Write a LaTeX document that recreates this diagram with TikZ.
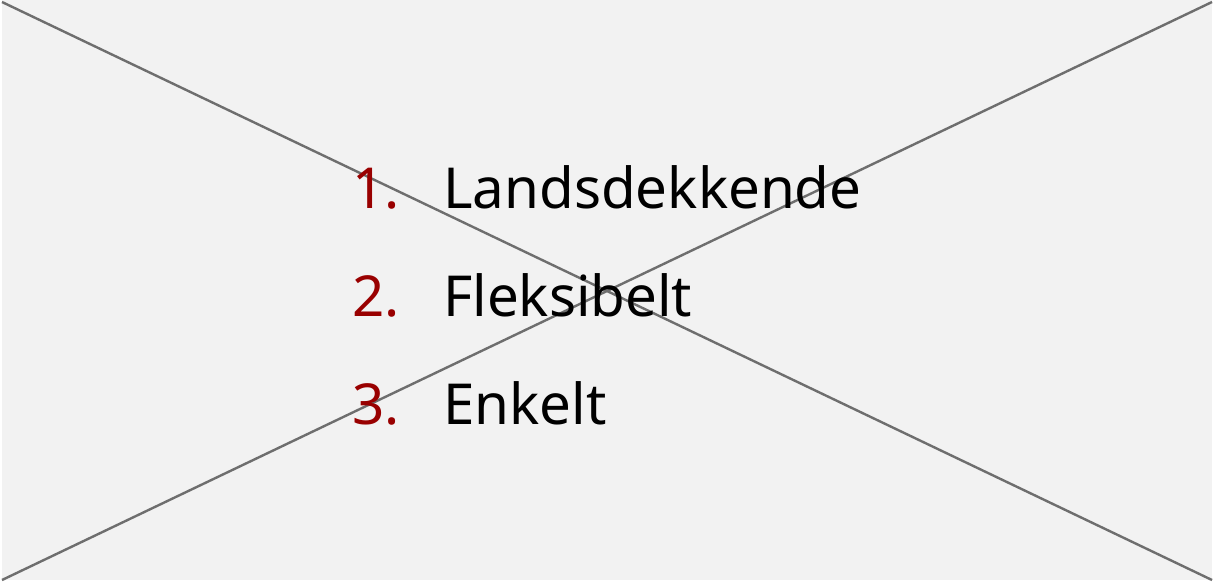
\documentclass[tikz,border=0pt]{standalone}
\usepackage{fontspec}
\setmainfont{Noto Sans}
\definecolor{bggray}{HTML}{F2F2F2}
\definecolor{linegray}{HTML}{6E6E6E}
\definecolor{numred}{HTML}{990000}
\begin{document}
\begin{tikzpicture}[x=1pt,y=-1pt,
  num/.style={anchor=base east,inner sep=0pt,text=numred,font=\fontsize{56.5}{60}\selectfont},
  item/.style={anchor=base west,inner sep=0pt,text=black,font=\fontsize{56.5}{60}\selectfont},
  cross/.style={draw=linegray,line width=2.4pt}]
\fill[white] (0,0) rectangle (1214,582);
\fill[bggray] (2,0) rectangle (1212,580);
\coordinate (tl) at (2,2);
\coordinate (br) at (1212,580);
\coordinate (tr) at (1212,2);
\coordinate (bl) at (2,580);
\draw[cross] (tl) -- (br);
\draw[cross] (tr) -- (bl);
\node[num] (n1) at (400,208) {1.};
\node[item] (t1) at (443,208) {Landsdekkende};
\node[num] (n2) at (400,316) {2.};
\node[item] (t2) at (443,316) {Fleksibelt};
\node[num] (n3) at (400,424) {3.};
\node[item] (t3) at (443,424) {Enkelt};
\end{tikzpicture}
\end{document}
